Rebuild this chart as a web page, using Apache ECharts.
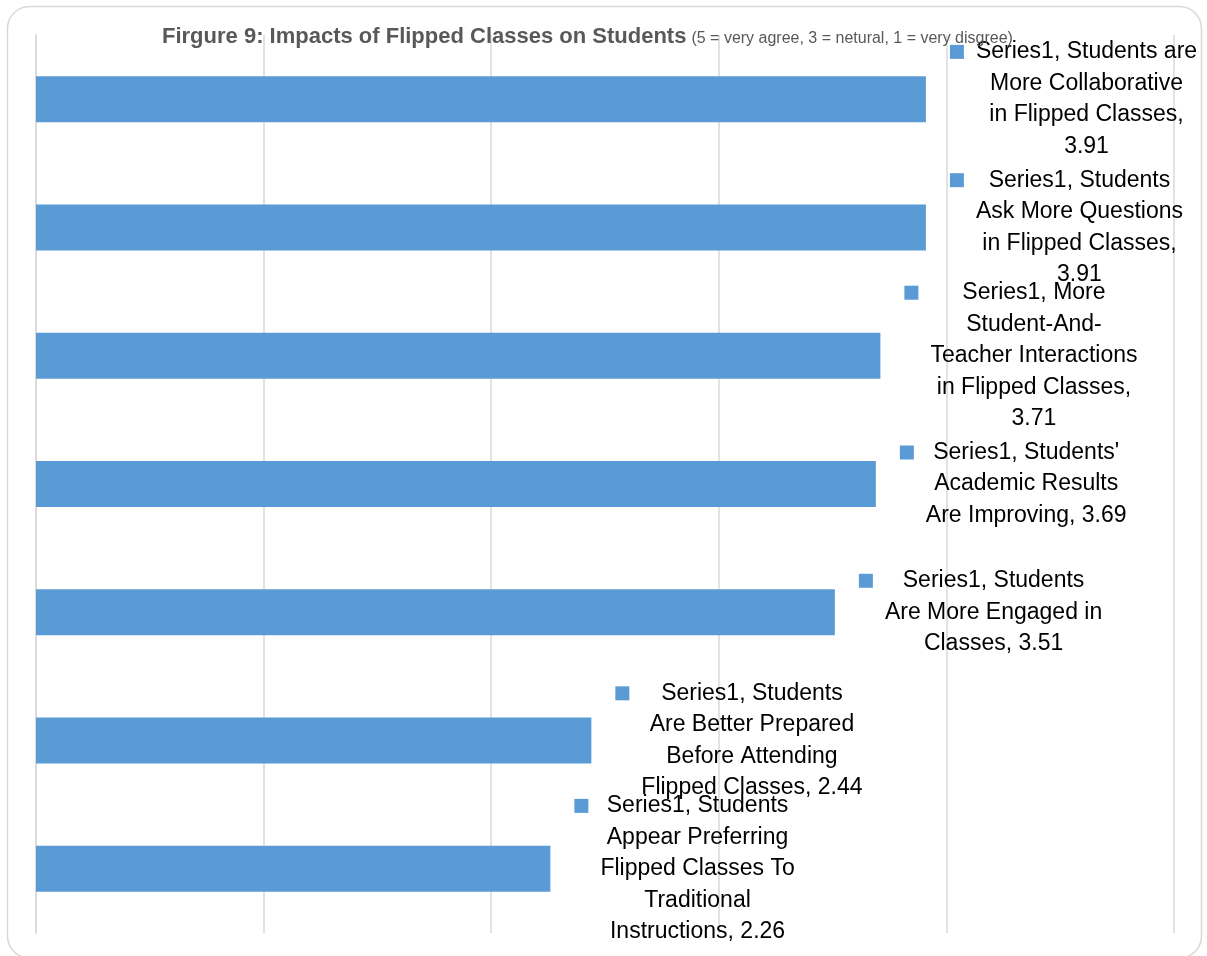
<!DOCTYPE html>
<html>
<head>
<meta charset="utf-8">
<script src="https://cdn.jsdelivr.net/npm/echarts@6/dist/echarts.min.js"></script>
<style>
  html, body { margin: 0; padding: 0; background: #ffffff; }
  #chart { width: 1207px; height: 956px; }
</style>
</head>
<body>
<div id="chart"></div>
<script>
// Survey results: mean agreement score per statement (5 = very agree, 1 = very disagree)
const seriesName = 'Series1';

const categories = [
  'Students are More Collaborative in Flipped Classes',
  'Students Ask More Questions in Flipped Classes',
  'More Student-And-Teacher Interactions in Flipped Classes',
  "Students' Academic Results Are Improving",
  'Students Are More Engaged in Classes',
  'Students Are Better Prepared Before Attending Flipped Classes',
  'Students Appear Preferring Flipped Classes To Traditional Instructions'
];

const values = [3.91, 3.91, 3.71, 3.69, 3.51, 2.44, 2.26];

const xTicks = [0, 1, 2, 3, 4, 5];

// Wrapped label lines; %v is replaced by the bar's value
const labelLines = [
  ['Students are', 'More Collaborative', 'in Flipped Classes,', '%v'],
  ['Students', 'Ask More Questions', 'in Flipped Classes,', '%v'],
  ['More', 'Student-And-', 'Teacher Interactions', 'in Flipped Classes,', '%v'],
  ["Students'", 'Academic Results', 'Are Improving, %v'],
  ['Students', 'Are More Engaged in', 'Classes, %v'],
  ['Students', 'Are Better Prepared', 'Before Attending', 'Flipped Classes, %v'],
  ['Students', 'Appear Preferring', 'Flipped Classes To', 'Traditional', 'Instructions, %v']
];

const BAR_COLOR = '#5B9BD5';
const GRID_COLOR = '#d9d9d9';
const FONT = '"Liberation Sans", Arial, sans-serif';

function labelText(params) {
  const lines = labelLines[params.dataIndex];
  const val = values[params.dataIndex].toFixed(2);
  return lines.map(function (line, i) {
    const txt = (i === 0 ? seriesName + ', ' : '') + line.replace('%v', val);
    return (i === 0 ? '{k|}{g|}' : '{s|}') + '{t|' + txt + '}';
  }).join('\n');
}

const chart = echarts.init(document.getElementById('chart'), null, { renderer: 'canvas' });

chart.setOption({
  backgroundColor: '#ffffff',
  animation: false,
  title: {
    left: 162,
    top: 22,
    padding: 0,
    text: '{a|Firgure 9: Impacts of Flipped Classes on Students} {b|(5 = very agree, 3 = netural, 1 = very disgree)}',
    textStyle: {
      rich: {
        a: { fontFamily: FONT, fontSize: 22, fontWeight: 'bold', color: '#595959', lineHeight: 26, verticalAlign: 'bottom' },
        b: { fontFamily: FONT, fontSize: 16, fontWeight: 'normal', color: '#595959', lineHeight: 26, verticalAlign: 'bottom', padding: [0, 0, 1, 0] }
      }
    }
  },
  graphic: [{
    type: 'rect',
    z: -1,
    silent: true,
    shape: { x: 7.5, y: 6.5, width: 1194, height: 951.5, r: 22 },
    style: { fill: 'none', stroke: GRID_COLOR, lineWidth: 1.5 }
  }],
  grid: { left: 36, right: 33, top: 35, bottom: 23, containLabel: false },
  xAxis: {
    type: 'value',
    min: xTicks[0],
    max: xTicks[xTicks.length - 1],
    interval: 1,
    axisLine: { show: false },
    axisTick: { show: false },
    axisLabel: { show: false },
    splitLine: { show: true, lineStyle: { color: GRID_COLOR, width: 1.5 } }
  },
  yAxis: {
    type: 'category',
    inverse: true,
    data: categories,
    axisLine: { show: true, lineStyle: { color: GRID_COLOR, width: 1.5 } },
    axisTick: { show: false },
    axisLabel: { show: false },
    splitLine: { show: false }
  },
  series: [{
    name: seriesName,
    type: 'bar',
    data: values,
    barWidth: 46,
    itemStyle: { color: BAR_COLOR },
    label: {
      show: true,
      position: 'right',
      distance: 24,
      formatter: labelText,
      rich: {
        k: { width: 14, height: 14, backgroundColor: BAR_COLOR },
        g: { width: 12 },
        s: { width: 26 },
        t: { align: 'center', fontFamily: FONT, fontSize: 23, lineHeight: 31.5, color: '#000000' }
      }
    }
  }]
});
</script>
</body>
</html>
